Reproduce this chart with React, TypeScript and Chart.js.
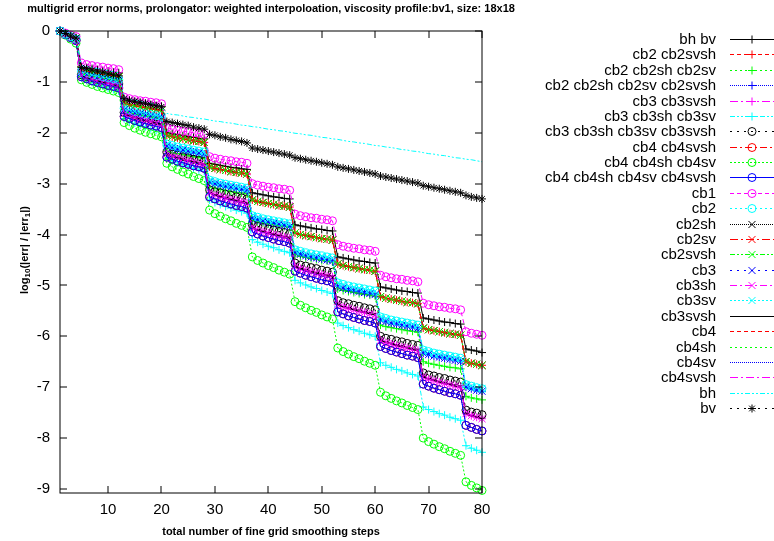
import React, { useEffect, useRef } from 'react';
import { Chart, registerables } from 'chart.js';

Chart.register(...registerables);

// ---------- data ----------
const steps = [
  1, 2, 3, 4, 5, 6, 7, 8, 9, 10, 11, 12, 13, 14, 15, 16, 17, 18, 19, 20,
  21, 22, 23, 24, 25, 26, 27, 28, 29, 30, 31, 32, 33, 34, 35, 36, 37, 38, 39, 40,
  41, 42, 43, 44, 45, 46, 47, 48, 49, 50, 51, 52, 53, 54, 55, 56, 57, 58, 59, 60,
  61, 62, 63, 64, 65, 66, 67, 68, 69, 70, 71, 72, 73, 74, 75, 76, 77, 78, 79, 80,
];
const xTickValues = [10, 20, 30, 40, 50, 60, 70, 80];
const yTickValues = [0, -1, -2, -3, -4, -5, -6, -7, -8, -9];

const titleText =
  'multigrid error norms, prolongator: weighted interpoloation, viscosity profile:bv1, size: 18x18';
const xTitle = 'total number of fine grid smoothing steps';

const seriesLabels = [
  'bh bv', 'cb2 cb2svsh', 'cb2 cb2sh cb2sv', 'cb2 cb2sh cb2sv cb2svsh', 'cb3 cb3svsh',
  'cb3 cb3sh cb3sv', 'cb3 cb3sh cb3sv cb3svsh', 'cb4 cb4svsh', 'cb4 cb4sh cb4sv',
  'cb4 cb4sh cb4sv cb4svsh', 'cb1', 'cb2', 'cb2sh', 'cb2sv', 'cb2svsh', 'cb3', 'cb3sh',
  'cb3sv', 'cb3svsh', 'cb4', 'cb4sh', 'cb4sv', 'cb4svsh', 'bh', 'bv',
];

// cb1 (top band)
const cb1Vals = [
  0, -0.04, -0.08, -0.11,
  -0.63, -0.66, -0.68, -0.7, -0.71, -0.73, -0.74, -0.76,
  -1.3, -1.33, -1.35, -1.37, -1.38, -1.4, -1.41, -1.43,
  -1.9, -1.93, -1.95, -1.97, -1.98, -2.0, -2.01, -2.03,
  -2.47, -2.5, -2.52, -2.54, -2.55, -2.57, -2.58, -2.6,
  -3.0, -3.03, -3.05, -3.07, -3.08, -3.1, -3.11, -3.13,
  -3.6, -3.63, -3.65, -3.67, -3.68, -3.7, -3.71, -3.73,
  -4.2, -4.23, -4.25, -4.27, -4.28, -4.3, -4.31, -4.33,
  -4.8, -4.83, -4.85, -4.87, -4.88, -4.9, -4.91, -4.93,
  -5.35, -5.38, -5.4, -5.42, -5.43, -5.45, -5.46, -5.48,
  -5.91, -5.94, -5.96, -5.98,
];
// bh bv
const bhbvVals = [
  0, -0.05, -0.09, -0.13,
  -0.7, -0.72, -0.74, -0.76, -0.78, -0.79, -0.81, -0.82,
  -1.36, -1.38, -1.4, -1.42, -1.44, -1.45, -1.47, -1.48,
  -2.0, -2.02, -2.04, -2.06, -2.08, -2.09, -2.11, -2.12,
  -2.6, -2.62, -2.64, -2.66, -2.68, -2.69, -2.71, -2.72,
  -3.18, -3.2, -3.22, -3.24, -3.26, -3.27, -3.29, -3.3,
  -3.81, -3.83, -3.85, -3.87, -3.89, -3.9, -3.92, -3.93,
  -4.44, -4.46, -4.48, -4.5, -4.52, -4.53, -4.55, -4.56,
  -5.03, -5.05, -5.07, -5.09, -5.11, -5.12, -5.14, -5.15,
  -5.64, -5.66, -5.68, -5.7, -5.72, -5.73, -5.75, -5.76,
  -6.25, -6.27, -6.29, -6.32,
];
// cb2 sh/sv/svsh band (green x, red x, black x, red +)
const cb2MixVals = [
  0, -0.05, -0.1, -0.14,
  -0.76, -0.79, -0.81, -0.83, -0.85, -0.87, -0.88, -0.9,
  -1.42, -1.45, -1.47, -1.49, -1.51, -1.53, -1.54, -1.56,
  -2.05, -2.08, -2.1, -2.12, -2.14, -2.16, -2.17, -2.19,
  -2.67, -2.7, -2.72, -2.74, -2.76, -2.78, -2.79, -2.81,
  -3.32, -3.35, -3.37, -3.39, -3.41, -3.43, -3.44, -3.46,
  -3.97, -4.0, -4.02, -4.04, -4.06, -4.08, -4.09, -4.11,
  -4.58, -4.61, -4.63, -4.65, -4.67, -4.69, -4.7, -4.72,
  -5.22, -5.25, -5.27, -5.29, -5.31, -5.33, -5.34, -5.36,
  -5.84, -5.87, -5.89, -5.91, -5.93, -5.95, -5.96, -5.98,
  -6.5, -6.53, -6.55, -6.57,
];
// cyan x / cyan o band
const cb3svVals = [
  0, -0.06, -0.11, -0.16,
  -0.8, -0.83, -0.86, -0.88, -0.9, -0.92, -0.94, -0.96,
  -1.52, -1.55, -1.58, -1.6, -1.62, -1.64, -1.66, -1.68,
  -2.22, -2.25, -2.28, -2.3, -2.32, -2.34, -2.36, -2.38,
  -2.93, -2.96, -2.99, -3.01, -3.03, -3.05, -3.07, -3.09,
  -3.63, -3.66, -3.69, -3.71, -3.73, -3.75, -3.77, -3.79,
  -4.3, -4.33, -4.36, -4.38, -4.4, -4.42, -4.44, -4.46,
  -4.95, -4.98, -5.01, -5.03, -5.05, -5.07, -5.09, -5.11,
  -5.62, -5.65, -5.68, -5.7, -5.72, -5.74, -5.76, -5.78,
  -6.27, -6.3, -6.33, -6.35, -6.37, -6.39, -6.41, -6.43,
  -6.95, -6.98, -7.01, -7.03,
];
// blue x / blue + band
const cb3Vals = [
  0, -0.06, -0.11, -0.16,
  -0.82, -0.85, -0.88, -0.9, -0.92, -0.94, -0.96, -0.98,
  -1.55, -1.58, -1.61, -1.63, -1.65, -1.67, -1.69, -1.71,
  -2.26, -2.29, -2.32, -2.34, -2.36, -2.38, -2.4, -2.42,
  -2.97, -3.0, -3.03, -3.05, -3.07, -3.09, -3.11, -3.13,
  -3.68, -3.71, -3.74, -3.76, -3.78, -3.8, -3.82, -3.84,
  -4.36, -4.39, -4.42, -4.44, -4.46, -4.48, -4.5, -4.52,
  -5.02, -5.05, -5.08, -5.1, -5.12, -5.14, -5.16, -5.18,
  -5.68, -5.71, -5.74, -5.76, -5.78, -5.8, -5.82, -5.84,
  -6.33, -6.36, -6.39, -6.41, -6.43, -6.45, -6.47, -6.49,
  -7.0, -7.03, -7.06, -7.08,
];
// green + band
const cb2shsvVals = [
  0, -0.06, -0.11, -0.16,
  -0.84, -0.87, -0.89, -0.91, -0.93, -0.95, -0.96, -0.98,
  -1.58, -1.61, -1.63, -1.65, -1.67, -1.69, -1.7, -1.72,
  -2.36, -2.39, -2.41, -2.43, -2.45, -2.47, -2.48, -2.5,
  -3.06, -3.09, -3.11, -3.13, -3.15, -3.17, -3.18, -3.2,
  -3.72, -3.75, -3.77, -3.79, -3.81, -3.83, -3.84, -3.86,
  -4.4, -4.43, -4.45, -4.47, -4.49, -4.51, -4.52, -4.54,
  -5.07, -5.1, -5.12, -5.14, -5.16, -5.18, -5.19, -5.21,
  -5.78, -5.81, -5.83, -5.85, -5.87, -5.89, -5.9, -5.92,
  -6.5, -6.53, -6.55, -6.57, -6.59, -6.61, -6.62, -6.64,
  -7.18, -7.21, -7.23, -7.25,
];
// black o band
const cb3AllVals = [
  0, -0.06, -0.12, -0.17,
  -0.86, -0.9, -0.92, -0.95, -0.97, -1.0, -1.02, -1.04,
  -1.6, -1.64, -1.66, -1.69, -1.71, -1.74, -1.76, -1.78,
  -2.38, -2.42, -2.44, -2.47, -2.49, -2.52, -2.54, -2.56,
  -3.12, -3.16, -3.18, -3.21, -3.23, -3.26, -3.28, -3.3,
  -3.8, -3.84, -3.86, -3.89, -3.91, -3.94, -3.96, -3.98,
  -4.56, -4.6, -4.62, -4.65, -4.67, -4.7, -4.72, -4.74,
  -5.3, -5.34, -5.36, -5.39, -5.41, -5.44, -5.46, -5.48,
  -6.0, -6.04, -6.06, -6.09, -6.11, -6.14, -6.16, -6.18,
  -6.72, -6.76, -6.78, -6.81, -6.83, -6.86, -6.88, -6.9,
  -7.45, -7.49, -7.51, -7.54,
];
// magenta + / magenta x / black line band
const cb3svshVals = [
  0, -0.07, -0.12, -0.18,
  -0.88, -0.92, -0.95, -0.98, -1.01, -1.03, -1.06, -1.08,
  -1.63, -1.67, -1.7, -1.73, -1.76, -1.78, -1.81, -1.83,
  -2.42, -2.46, -2.49, -2.52, -2.55, -2.57, -2.6, -2.62,
  -3.18, -3.22, -3.25, -3.28, -3.31, -3.33, -3.36, -3.38,
  -3.87, -3.91, -3.94, -3.97, -4.0, -4.02, -4.05, -4.07,
  -4.63, -4.67, -4.7, -4.73, -4.76, -4.78, -4.81, -4.83,
  -5.38, -5.42, -5.45, -5.48, -5.51, -5.53, -5.56, -5.58,
  -6.08, -6.12, -6.15, -6.18, -6.21, -6.23, -6.26, -6.28,
  -6.8, -6.84, -6.87, -6.9, -6.93, -6.95, -6.98, -7.0,
  -7.52, -7.56, -7.59, -7.62,
];
// blue o band
const cb4AllVals = [
  0, -0.07, -0.13, -0.19,
  -0.9, -0.94, -0.98, -1.01, -1.04, -1.07, -1.09, -1.12,
  -1.68, -1.72, -1.76, -1.79, -1.82, -1.85, -1.87, -1.9,
  -2.48, -2.52, -2.56, -2.59, -2.62, -2.65, -2.67, -2.7,
  -3.26, -3.3, -3.34, -3.37, -3.4, -3.43, -3.45, -3.48,
  -3.95, -3.99, -4.03, -4.06, -4.09, -4.12, -4.14, -4.17,
  -4.72, -4.76, -4.8, -4.83, -4.86, -4.89, -4.91, -4.94,
  -5.52, -5.56, -5.6, -5.63, -5.66, -5.69, -5.71, -5.74,
  -6.2, -6.24, -6.28, -6.31, -6.34, -6.37, -6.39, -6.42,
  -6.94, -6.98, -7.02, -7.05, -7.08, -7.11, -7.13, -7.16,
  -7.75, -7.79, -7.83, -7.86,
];
// cyan + band
const cb3shsvVals = [
  0, -0.07, -0.13, -0.19,
  -0.92, -0.97, -1.01, -1.05, -1.08, -1.12, -1.15, -1.18,
  -1.72, -1.77, -1.81, -1.85, -1.88, -1.92, -1.95, -1.98,
  -2.5, -2.55, -2.59, -2.63, -2.66, -2.7, -2.73, -2.76,
  -3.32, -3.37, -3.41, -3.45, -3.48, -3.52, -3.55, -3.58,
  -4.1, -4.15, -4.19, -4.23, -4.26, -4.3, -4.33, -4.36,
  -4.9, -4.95, -4.99, -5.03, -5.06, -5.1, -5.13, -5.16,
  -5.74, -5.79, -5.83, -5.87, -5.9, -5.94, -5.97, -6.0,
  -6.52, -6.57, -6.61, -6.65, -6.68, -6.72, -6.75, -6.78,
  -7.39, -7.44, -7.48, -7.52, -7.55, -7.59, -7.62, -7.65,
  -8.15, -8.2, -8.24, -8.28,
];
// green o band (lowest)
const cb4shsvVals = [
  0, -0.08, -0.16, -0.24,
  -0.96, -1.01, -1.05, -1.09, -1.12, -1.15, -1.18, -1.21,
  -1.8, -1.86, -1.91, -1.95, -1.99, -2.02, -2.05, -2.08,
  -2.6, -2.67, -2.72, -2.77, -2.81, -2.86, -2.9, -2.94,
  -3.52, -3.59, -3.64, -3.69, -3.73, -3.78, -3.82, -3.86,
  -4.44, -4.51, -4.56, -4.61, -4.65, -4.7, -4.74, -4.78,
  -5.32, -5.39, -5.44, -5.49, -5.53, -5.58, -5.62, -5.66,
  -6.23, -6.3, -6.35, -6.4, -6.44, -6.49, -6.53, -6.57,
  -7.1, -7.17, -7.22, -7.27, -7.31, -7.36, -7.4, -7.44,
  -8.0, -8.07, -8.12, -8.17, -8.21, -8.26, -8.3, -8.34,
  -8.86, -8.93, -8.98, -9.03,
];
// bh
const bhVals = [
  0, -0.04, -0.08, -0.12,
  -0.68, -0.7, -0.72, -0.74, -0.76, -0.78, -0.8, -0.82,
  -1.32, -1.34, -1.36, -1.38, -1.4, -1.42, -1.45, -1.48,
  -1.62, -1.64, -1.65, -1.67, -1.69, -1.7, -1.72, -1.73,
  -1.75, -1.77, -1.78, -1.8, -1.81, -1.83, -1.85, -1.86,
  -1.88, -1.89, -1.91, -1.93, -1.94, -1.96, -1.97, -1.99,
  -2.01, -2.02, -2.04, -2.05, -2.07, -2.09, -2.1, -2.12,
  -2.13, -2.15, -2.17, -2.18, -2.2, -2.21, -2.23, -2.25,
  -2.26, -2.28, -2.29, -2.31, -2.33, -2.34, -2.36, -2.37,
  -2.39, -2.41, -2.42, -2.44, -2.45, -2.47, -2.49, -2.5,
  -2.52, -2.53, -2.55, -2.57,
];
// bv
const bvVals = [
  0, -0.05, -0.1, -0.14,
  -0.72, -0.74, -0.77, -0.79, -0.81, -0.84, -0.86, -0.88,
  -1.33, -1.36, -1.38, -1.4, -1.42, -1.45, -1.47, -1.49,
  -1.78, -1.8, -1.82, -1.84, -1.86, -1.89, -1.91, -1.93,
  -2.03, -2.05, -2.08, -2.1, -2.13, -2.15, -2.17, -2.2,
  -2.3, -2.32, -2.34, -2.36, -2.38, -2.4, -2.42, -2.44,
  -2.49, -2.51, -2.53, -2.55, -2.57, -2.59, -2.61, -2.63,
  -2.67, -2.69, -2.71, -2.73, -2.75, -2.77, -2.79, -2.81,
  -2.85, -2.87, -2.89, -2.91, -2.93, -2.95, -2.97, -2.99,
  -3.04, -3.06, -3.08, -3.1, -3.12, -3.14, -3.16, -3.18,
  -3.23, -3.26, -3.28, -3.3,
];

const seriesValues = [
  bhbvVals, cb2MixVals, cb2shsvVals, cb3Vals, cb3svshVals,
  cb3shsvVals, cb3AllVals, cb4AllVals, cb4shsvVals,
  cb4AllVals, cb1Vals, cb3svVals, cb2MixVals, cb2MixVals, cb2MixVals, cb3Vals, cb3svshVals,
  cb3svVals, cb3svshVals, cb2MixVals, cb2shsvVals, cb4AllVals, cb3svshVals, bhVals, bvVals,
];

// ---------- styles ----------
const COLORS = ['#000000', '#ff0000', '#00ff00', '#0000ff', '#ff00ff', '#00ffff'];
const DASHES: number[][] = [
  [], [4, 3], [2, 3], [1, 1], [8, 3, 2, 3], [5, 2, 2, 2, 2, 2], [2, 5], [7, 3, 2, 3], [2, 2],
];
const MARKERS: (string | null)[] = ['cross', 'circle', 'crossRot', null, 'star'];
const FONT = '"Liberation Sans", Arial, sans-serif';

function markerFor(i: number) {
  return MARKERS[Math.floor(i / 6)];
}

function drawMarker(ctx: CanvasRenderingContext2D, style: string | null, x: number, y: number) {
  if (!style) return;
  ctx.beginPath();
  const r = 4;
  if (style === 'cross') {
    ctx.moveTo(x - r, y); ctx.lineTo(x + r, y);
    ctx.moveTo(x, y - r); ctx.lineTo(x, y + r);
  } else if (style === 'circle') {
    ctx.arc(x, y, r, 0, Math.PI * 2);
  } else if (style === 'crossRot') {
    const d = 5 * Math.SQRT1_2;
    ctx.moveTo(x - d, y - d); ctx.lineTo(x + d, y + d);
    ctx.moveTo(x - d, y + d); ctx.lineTo(x + d, y - d);
  } else if (style === 'star') {
    const d = r * Math.SQRT1_2;
    ctx.moveTo(x - r, y); ctx.lineTo(x + r, y);
    ctx.moveTo(x, y - r); ctx.lineTo(x, y + r);
    ctx.moveTo(x - d, y - d); ctx.lineTo(x + d, y + d);
    ctx.moveTo(x - d, y + d); ctx.lineTo(x + d, y - d);
  }
  ctx.stroke();
}

const framePlugin = {
  id: 'gnuplotFrame',
  afterDraw(chart: any) {
    const { ctx, chartArea, scales } = chart;
    const { left, right, top, bottom } = chartArea;
    ctx.save();
    // frame + inward ticks
    ctx.strokeStyle = '#000';
    ctx.lineWidth = 1;
    ctx.setLineDash([]);
    ctx.strokeRect(left, top, right - left, bottom - top);
    ctx.beginPath();
    for (const v of xTickValues) {
      const px = Math.round(scales.x.getPixelForValue(v));
      ctx.moveTo(px, bottom); ctx.lineTo(px, bottom - 7);
      ctx.moveTo(px, top); ctx.lineTo(px, top + 7);
    }
    for (const v of yTickValues) {
      const py = Math.round(scales.y.getPixelForValue(v));
      ctx.moveTo(left, py); ctx.lineTo(left + 7, py);
      ctx.moveTo(right, py); ctx.lineTo(right - 7, py);
    }
    ctx.stroke();

    // titles
    ctx.fillStyle = '#000';
    ctx.font = `bold 11px ${FONT}`;
    ctx.textAlign = 'center';
    ctx.textBaseline = 'middle';
    const cx = (left + right) / 2;
    ctx.fillText(titleText, cx, 9);
    ctx.fillText(xTitle, cx, 532);

    // y title with subscripts, rotated
    ctx.save();
    ctx.translate(25, 250);
    ctx.rotate(-Math.PI / 2);
    const parts: [string, boolean][] = [
      ['log', false], ['10', true], ['(|err| / |err', false], ['1', true], ['|)', false],
    ];
    const big = `bold 11px ${FONT}`;
    const small = `bold 8px ${FONT}`;
    let total = 0;
    for (const [t, sub] of parts) { ctx.font = sub ? small : big; total += ctx.measureText(t).width; }
    let xx = -total / 2;
    ctx.textAlign = 'left';
    for (const [t, sub] of parts) {
      ctx.font = sub ? small : big;
      ctx.fillText(t, xx, sub ? 3 : 0);
      xx += ctx.measureText(t).width;
    }
    ctx.restore();

    // legend
    ctx.font = `15px ${FONT}`;
    ctx.textAlign = 'right';
    ctx.textBaseline = 'middle';
    seriesLabels.forEach((label, i) => {
      const y = Math.round(39 + i * 15.375) + 0.5;
      ctx.fillStyle = '#000';
      ctx.fillText(label, 716, y);
      const color = COLORS[i % 6];
      ctx.strokeStyle = color;
      ctx.lineWidth = 1;
      ctx.setLineDash(DASHES[i % 9]);
      ctx.beginPath();
      ctx.moveTo(730, y); ctx.lineTo(774, y);
      ctx.stroke();
      ctx.setLineDash([]);
      drawMarker(ctx, markerFor(i), 752, y);
    });
    ctx.restore();
  },
};

export default function App() {
  const ref = useRef<HTMLCanvasElement>(null);
  useEffect(() => {
    const canvas = ref.current!;
    const n = seriesLabels.length;
    const datasets = seriesLabels.map((label, i) => {
      const marker = markerFor(i);
      return {
        label,
        data: seriesValues[i].map((v, k) => ({ x: steps[k], y: v })),
        borderColor: COLORS[i % 6],
        borderWidth: 1,
        borderDash: DASHES[i % 9],
        pointStyle: marker ?? false,
        pointRadius: marker ? (marker === 'crossRot' ? 5 : 4) : 0,
        pointHoverRadius: 0,
        pointBorderColor: COLORS[i % 6],
        pointBackgroundColor: 'rgba(0,0,0,0)',
        pointBorderWidth: 1,
        fill: false,
        tension: 0,
        clip: false,
        order: n - i,
      };
    });
    const chart = new Chart(canvas, {
      type: 'line',
      data: { datasets } as any,
      options: {
        responsive: false,
        animation: false,
        events: [],
        layout: { padding: { top: 31, right: 292, left: 0, bottom: 0 } },
        plugins: {
          legend: { display: false },
          title: { display: false },
          tooltip: { enabled: false },
        },
        scales: {
          x: {
            type: 'linear',
            min: 1,
            max: 80,
            grid: { display: false, drawTicks: false },
            border: { display: false },
            afterBuildTicks: (s: any) => { s.ticks = xTickValues.map((v) => ({ value: v })); },
            afterFit: (s: any) => { s.height = 48; },
            ticks: {
              font: { family: FONT, size: 15 },
              color: '#000',
              padding: 8,
              maxRotation: 0,
              autoSkip: false,
            },
          },
          y: {
            type: 'linear',
            min: -9.08,
            max: 0,
            grid: { display: false, drawTicks: false },
            border: { display: false },
            afterBuildTicks: (s: any) => { s.ticks = yTickValues.map((v) => ({ value: v })); },
            afterFit: (s: any) => { s.width = 60; },
            ticks: {
              font: { family: FONT, size: 15 },
              color: '#000',
              padding: 10,
              autoSkip: false,
            },
          },
        },
      } as any,
      plugins: [framePlugin],
    });
    return () => chart.destroy();
  }, []);
  return (
    <div style={{ position: 'absolute', left: 0, top: 0, width: 774, height: 541, background: '#fff' }}>
      <canvas ref={ref} width={774} height={541} style={{ display: 'block' }} />
    </div>
  );
}
